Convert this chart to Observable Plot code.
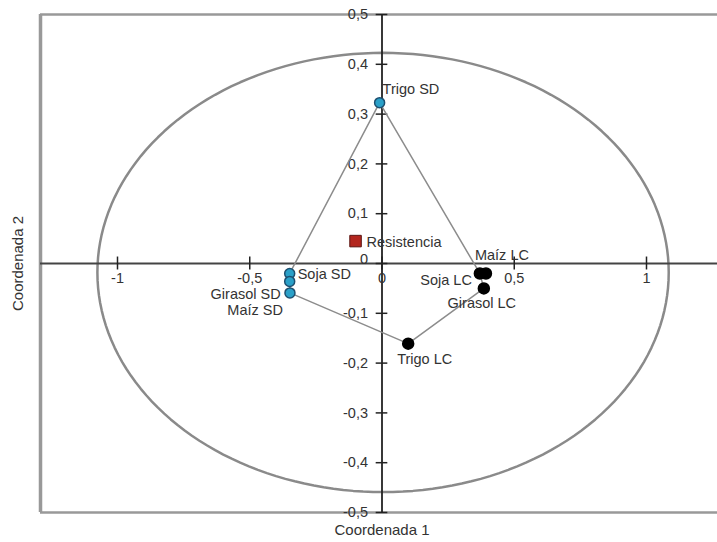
<!DOCTYPE html>
<html>
<head>
<meta charset="utf-8">
<script src="https://cdn.jsdelivr.net/npm/d3@7"></script>
<script src="https://cdn.jsdelivr.net/npm/@observablehq/plot@0.6"></script>
<style>
  html, body { margin: 0; padding: 0; background: #fff; }
  #chart svg { display: block; }
</style>
</head>
<body>
<div id="chart"></div>
<script>
// ---- data ----
const labels = ["Trigo SD", "Soja SD", "Girasol SD", "Maíz SD", "Soja LC", "Maíz LC", "Girasol LC", "Trigo LC", "Resistencia"];
const coord1 = [-0.009, -0.349, -0.349, -0.348, 0.370, 0.393, 0.385, 0.099, -0.100];
const coord2 = [0.323, -0.020, -0.036, -0.059, -0.020, -0.020, -0.050, -0.161, 0.045];
const groups = ["SD", "SD", "SD", "SD", "LC", "LC", "LC", "LC", "Resistencia"];
const hullOrder = ["Trigo SD", "Soja LC", "Girasol LC", "Trigo LC", "Maíz SD", "Soja SD", "Trigo SD"];
const xTicks = [-1, -0.5, 0, 0.5, 1];
const yTicks = [0.5, 0.4, 0.3, 0.2, 0.1, 0, -0.1, -0.2, -0.3, -0.4, -0.5];
const ellipseCenter = [0.004, -0.018];
const ellipseRadii = [1.08, 0.441];

// label placement (layout only)
const labelPlace = {
  "Trigo SD":   {dx: 3,   dy: -13, anchor: "start"},
  "Soja SD":    {dx: 8,   dy: 1,   anchor: "start"},
  "Girasol SD": {dx: -9,  dy: 13,  anchor: "end"},
  "Maíz SD":    {dx: -7,  dy: 17,  anchor: "end"},
  "Maíz LC":    {dx: -11, dy: -18, anchor: "start"},
  "Soja LC":    {dx: -8,  dy: 7,   anchor: "end"},
  "Girasol LC": {dx: -2,  dy: 15,  anchor: "middle"},
  "Trigo LC":   {dx: -11, dy: 16,  anchor: "start"},
  "Resistencia":{dx: 11,  dy: 1,   anchor: "start"}
};

const pts = labels.map((l, i) => ({label: l, x: coord1[i], y: coord2[i], group: groups[i]}));
const byLabel = Object.fromEntries(pts.map(p => [p.label, p]));
const hull = hullOrder.map(l => byLabel[l]);
const ellipse = d3.range(0, 361, 2).map(a => ({
  x: ellipseCenter[0] + ellipseRadii[0] * Math.cos(a * Math.PI / 180),
  y: ellipseCenter[1] + ellipseRadii[1] * Math.sin(a * Math.PI / 180)
}));
const fmt = v => (v === 0 ? "0" : String(v).replace(".", ","));

const W = 717, H = 542;
const mL = 40, mR = 0, mT = 14, mB = 30;
const xPerUnit = 264.5;
const x0px = 381.5;
const xDomain = [(mL - x0px) / xPerUnit, (W - mR - x0px) / xPerUnit];
const yTitleX = (18 - x0px) / xPerUnit;

const font = "'Liberation Sans', Arial, sans-serif";
const textFill = "#333";
const fs = 14.5;

const textMarks = pts.map(p => Plot.text([p], {
  x: "x", y: "y", text: "label",
  dx: labelPlace[p.label].dx, dy: labelPlace[p.label].dy,
  textAnchor: labelPlace[p.label].anchor, fill: textFill, fontSize: fs
}));

const chart = Plot.plot({
  width: W, height: H,
  marginLeft: mL, marginRight: mR, marginTop: mT, marginBottom: mB,
  x: {domain: xDomain, axis: null},
  y: {domain: [-0.5, 0.5], axis: null},
  style: {fontFamily: font, background: "#fff", overflow: "visible"},
  marks: [
    // frame (left, top, bottom)
    Plot.ruleY([-0.5, 0.5], {stroke: "#999", strokeWidth: 2.5}),
    Plot.ruleX([xDomain[0]], {x: d => d, y1: -0.5, y2: 0.5, stroke: "#999", strokeWidth: 3.5}),
    // ellipse
    Plot.line(ellipse, {x: "x", y: "y", stroke: "#8a8a8a", strokeWidth: 2.5}),
    // axes through origin
    Plot.ruleY([0], {stroke: "#444", strokeWidth: 1.8}),
    Plot.ruleX([0], {y1: -0.5, y2: 0.5, stroke: "#222", strokeWidth: 1.8}),
    Plot.ruleX(xTicks, {x: d => d, y1: -0.013, y2: 0.013, stroke: "#222", strokeWidth: 1.5}),
    Plot.ruleY(yTicks, {y: d => d, x1: -0.022, x2: 0.022, stroke: "#222", strokeWidth: 1.5}),
    Plot.text(xTicks, {x: d => d, y: 0, text: d => fmt(d), dy: 15, fill: textFill, fontSize: fs}),
    Plot.text(yTicks.filter(d => d !== 0), {x: 0, y: d => d, text: d => fmt(d), dx: -14, textAnchor: "end", fill: textFill, fontSize: fs}),
    Plot.text([0], {x: 0, y: 0, text: d => fmt(d), dx: -14, dy: -4, textAnchor: "end", fill: textFill, fontSize: fs}),
    // convex outline
    Plot.line(hull, {x: "x", y: "y", stroke: "#8c8c8c", strokeWidth: 1.5}),
    // points
    Plot.dot(pts.filter(p => p.group === "SD"), {x: "x", y: "y", r: 5, fill: "#2aa0c8", stroke: "#1d4f70", strokeWidth: 1.5}),
    Plot.dot(pts.filter(p => p.group === "LC"), {x: "x", y: "y", r: 5.5, fill: "#000", stroke: "#000"}),
    Plot.dot(pts.filter(p => p.group === "Resistencia"), {x: "x", y: "y", symbol: "square", r: 6.5, fill: "#b3261e", stroke: "#5b1512", strokeWidth: 1}),
    ...textMarks,
    // axis titles
    Plot.text(["Coordenada 1"], {x: 0, y: -0.5, dy: 18, text: d => d, fill: textFill, fontSize: 15}),
    Plot.text(["Coordenada 2"], {x: yTitleX, y: 0, rotate: -90, text: d => d, fill: textFill, fontSize: 15})
  ]
});
document.getElementById("chart").appendChild(chart);
</script>
</body>
</html>
